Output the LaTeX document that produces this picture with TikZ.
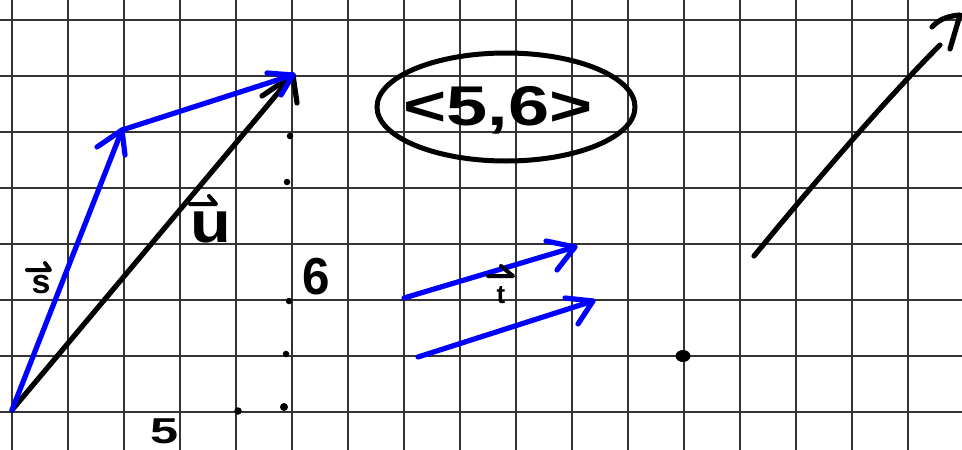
\documentclass[tikz,border=0pt]{standalone}
\usepackage{fontspec}
\setmainfont{Liberation Sans}
\begin{document}
\begin{tikzpicture}[x=1pt,y=-1pt,
  gridline/.style={draw=black!80,line width=1.3pt},
  stroke/.style={line width=5.2pt,line cap=round,line join=round},
  bluevec/.style={stroke,draw=blue},
  blackvec/.style={stroke,draw=black},
  overarrow/.style={line width=4pt,line cap=round,line join=round,draw=black},
  dotmark/.style={fill=black,circle,inner sep=0pt,minimum size=6.5pt},
  hand/.style={inner sep=0pt,anchor=base,text=black}]
\useasboundingbox (0,0) rectangle (962,450);
\fill[white] (0,0) rectangle (962,450);
% grid
\foreach \i in {0,...,16} \draw[gridline] (12+56*\i,0) -- (12+56*\i,450);
\foreach \j in {0,...,7} \draw[gridline] (0,20+56*\j) -- (962,20+56*\j);

% coordinates
\coordinate (O) at (12,410);
\coordinate (S) at (122,130);
\coordinate (U) at (293,75);
\coordinate (sw1) at (97,147);
\coordinate (sw2) at (125,155);
\coordinate (bw1) at (267,73);
\coordinate (bw2) at (281,95);
\coordinate (uw1) at (262,96);
\coordinate (uw2) at (297,103);

% black vector u
\draw[blackvec] (O) -- (U);
\draw[blackvec] (uw1) -- (U) -- (uw2);
% blue vectors s and s->u
\draw[bluevec] (O) -- (S);
\draw[bluevec] (sw1) -- (S) -- (sw2);
\draw[bluevec] (S) -- (U);
\draw[bluevec] (bw1) -- (U) -- (bw2);

% dots
\node[dotmark] (d1) at (290,136) {};
\node[dotmark] (d2) at (287,182) {};
\node[dotmark] (d3) at (289,301) {};
\node[dotmark] (d4) at (286,354) {};
\node[dotmark,minimum size=8pt] (d5) at (284,407) {};
\node[dotmark,minimum size=7.5pt] (d6) at (238,411) {};

% labels s, u
\node[hand,font=\fontsize{34}{34}\selectfont\bfseries] (ls) at (41,293) {s};
\draw[overarrow] (27,270) -- (50,270) -- (45,263);
\node[hand,font=\fontsize{58}{58}\selectfont\bfseries,xscale=1.15] (lu) at (211,242) {u};
\draw[overarrow] (190,204) -- (216,204) -- (209,196);
\node[hand,font=\fontsize{52}{52}\selectfont\bfseries,xscale=0.95] (l6) at (316,294) {6};
\node[hand,font=\fontsize{36}{36}\selectfont\bfseries,xscale=1.4] (l5) at (165,443) {5};

% <5,6> in ellipse
\node[hand,font=\fontsize{56}{56}\selectfont\bfseries,xscale=1.32] (pair) at (498,125) {<5,6>};
\draw[line width=5pt] (506,107) ellipse [x radius=129, y radius=54];

% vector t and copy
\coordinate (t1) at (404,298);
\coordinate (t2) at (575,247);
\coordinate (tw1) at (546,241);
\coordinate (tw2) at (557,270);
\draw[bluevec] (t1) -- (t2);
\draw[bluevec] (tw1) -- (t2) -- (tw2);
\coordinate (r1) at (418,357);
\coordinate (r2) at (593,301);
\coordinate (rw1) at (565,298);
\coordinate (rw2) at (578,324);
\draw[bluevec] (r1) -- (r2);
\draw[bluevec] (rw1) -- (r2) -- (rw2);
\node[hand,font=\fontsize{26}{26}\selectfont\bfseries] (lt) at (501,303) {t};
\draw[overarrow] (488,276) -- (513,276) -- (501,266);

% point
\fill[black] (683,356) ellipse [x radius=7.5, y radius=6];

% free black arrow
\coordinate (a1) at (754,256);
\coordinate (a2) at (940,45);
\coordinate (aw1) at (932,27);
\coordinate (atip) at (960,15);
\coordinate (aw2) at (950,49);
\draw[blackvec] (a1) .. controls (800,200) and (880,105) .. (a2);
\draw[blackvec] (aw1) .. controls (940,18) and (950,16) .. (atip) -- (aw2);
\end{tikzpicture}
\end{document}
